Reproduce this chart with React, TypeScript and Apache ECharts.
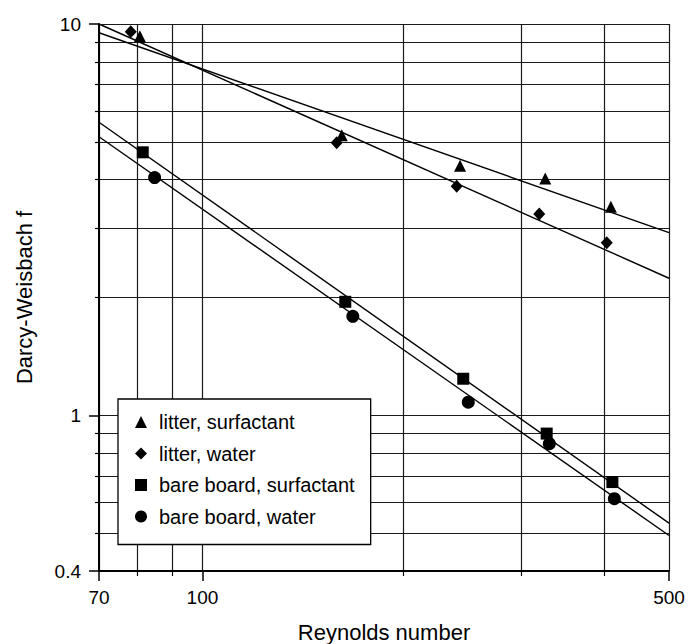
import React, { useEffect, useRef } from 'react';
import * as echarts from 'echarts';

// Measured points (Reynolds number, Darcy-Weisbach f)
const reLitterSurf = [80.6, 161.7, 243.2, 326.3, 409.2];
const fLitterSurf = [9.3, 5.2, 4.34, 4.03, 3.41];
const reLitterWater = [78.1, 158.9, 240.4, 319.6, 403.4];
const fLitterWater = [9.56, 4.97, 3.85, 3.27, 2.76];
const reBareSurf = [81.4, 163.7, 245.9, 327.9, 411.3];
const fBareSurf = [4.7, 1.95, 1.24, 0.898, 0.675];
const reBareWater = [84.8, 168.0, 250.2, 330.9, 414.1];
const fBareWater = [4.05, 1.79, 1.08, 0.846, 0.612];

// Fitted power-law lines (end points)
const fitRe = [70, 500];
const fitLitterSurf = [9.5, 2.93];
const fitLitterWater = [10.0, 2.24];
const fitBareSurf = [5.61, 0.53];
const fitBareWater = [5.15, 0.493];

const xMajorTicks = [70, 100, 500];
const xMinorTicks = [80, 90, 200, 300, 400];
const yMajorTicks = [0.4, 1, 10];
const yMinorTicks = [0.5, 0.6, 0.7, 0.8, 0.9, 2, 3, 4, 5, 6, 7, 8, 9];

const seriesNames = ['litter, surfactant', 'litter, water', 'bare board, surfactant', 'bare board, water'];
const symbols = ['triangle', 'diamond', 'rect', 'circle'];
const symbolSizes: any[] = [[12, 12], [12, 13], 12, 13];

const FONT = "'Liberation Sans', Arial, Helvetica, sans-serif";

const zip = (a: number[], b: number[]) => a.map((v, i) => [v, b[i]]);

export default function App() {
  const ref = useRef<HTMLDivElement>(null);
  useEffect(() => {
    if (!ref.current) return;
    const chart = echarts.init(ref.current, null, { renderer: 'svg' });
    const pts = [
      zip(reLitterSurf, fLitterSurf),
      zip(reLitterWater, fLitterWater),
      zip(reBareSurf, fBareSurf),
      zip(reBareWater, fBareWater),
    ];
    const fits = [fitLitterSurf, fitLitterWater, fitBareSurf, fitBareWater].map((f) => zip(fitRe, f));
    const gridLine = { show: true, lineStyle: { color: '#1a1a1a', width: 1.2 } };
    const fmt = (v: number) => String(+Number(v).toPrecision(6));
    const option: any = {
      animation: false,
      backgroundColor: '#fff',
      grid: { left: 99, top: 24, width: 570, height: 547, outerBoundsMode: 'none' },
      xAxis: [
        {
          type: 'log', logBase: 10, min: 70, max: 500, position: 'bottom',
          name: 'Reynolds number', nameLocation: 'middle', nameGap: 50,
          nameTextStyle: { fontFamily: FONT, fontSize: 22, color: '#000' },
          axisLine: { show: true, lineStyle: { color: '#000', width: 2 } },
          axisTick: { show: true, customValues: xMajorTicks, length: 10, lineStyle: { color: '#000', width: 1.5 } },
          axisLabel: { show: true, customValues: xMajorTicks, margin: 17, formatter: fmt, fontFamily: FONT, fontSize: 19, color: '#000' },
          splitLine: gridLine,
          minorTick: { show: false }, minorSplitLine: { show: false },
          z: 5,
        },
        {
          type: 'log', logBase: 10, min: 70, max: 500, position: 'bottom',
          axisLine: { show: false },
          axisTick: { show: true, customValues: xMinorTicks, length: 5, lineStyle: { color: '#000', width: 1.2 } },
          axisLabel: { show: false },
          splitLine: gridLine,
          minorTick: { show: false }, minorSplitLine: { show: false },
        },
      ],
      yAxis: [
        {
          type: 'log', logBase: 10, min: 0.4, max: 10, position: 'left',
          name: 'Darcy-Weisbach f', nameLocation: 'middle', nameGap: 64,
          nameTextStyle: { fontFamily: FONT, fontSize: 22, color: '#000' },
          axisLine: { show: true, lineStyle: { color: '#000', width: 2 } },
          axisTick: { show: true, customValues: yMajorTicks, length: 10, lineStyle: { color: '#000', width: 1.5 } },
          axisLabel: { show: true, customValues: yMajorTicks, margin: 18, formatter: fmt, fontFamily: FONT, fontSize: 19, color: '#000' },
          splitLine: gridLine,
          minorTick: { show: false }, minorSplitLine: { show: false },
          z: 5,
        },
        {
          type: 'log', logBase: 10, min: 0.4, max: 10, position: 'left',
          axisLine: { show: false },
          axisTick: { show: true, customValues: yMinorTicks, length: 4, lineStyle: { color: '#000', width: 1.2 } },
          axisLabel: { show: false },
          splitLine: gridLine,
          minorTick: { show: false }, minorSplitLine: { show: false },
        },
      ],
      legend: {
        show: true,
        data: seriesNames.map((n, i) => ({ name: n, icon: symbols[i] })),
        orient: 'vertical',
        left: 118,
        top: 399,
        padding: [13, 16, 18, 17],
        itemWidth: 12,
        itemHeight: 12,
        itemGap: 11.5,
        symbolKeepAspect: true,
        backgroundColor: '#fff',
        borderColor: '#000',
        borderWidth: 1.3,
        borderRadius: 0,
        textStyle: { fontFamily: FONT, fontSize: 20, lineHeight: 20, color: '#000', padding: [0, 0, 0, 7] },
        z: 10,
      },
      series: [
        ...fits.map((d, i) => ({
          type: 'line',
          name: 'fit ' + i,
          data: d,
          xAxisIndex: 0,
          yAxisIndex: 0,
          showSymbol: false,
          symbol: 'none',
          lineStyle: { color: '#000', width: 1.4 },
          silent: true,
          z: 3,
        })),
        ...pts.map((d, i) => ({
          type: 'scatter',
          name: seriesNames[i],
          data: d,
          xAxisIndex: 0,
          yAxisIndex: 0,
          symbol: symbols[i],
          symbolSize: symbolSizes[i],
          itemStyle: { color: '#000', opacity: 1 },
          z: 4,
        })),
      ],
    };
    chart.setOption(option);
    return () => chart.dispose();
  }, []);
  return (
    <div
      ref={ref}
      style={{ position: 'fixed', left: 0, top: 0, width: 688, height: 644, background: '#fff' }}
    />
  );
}
